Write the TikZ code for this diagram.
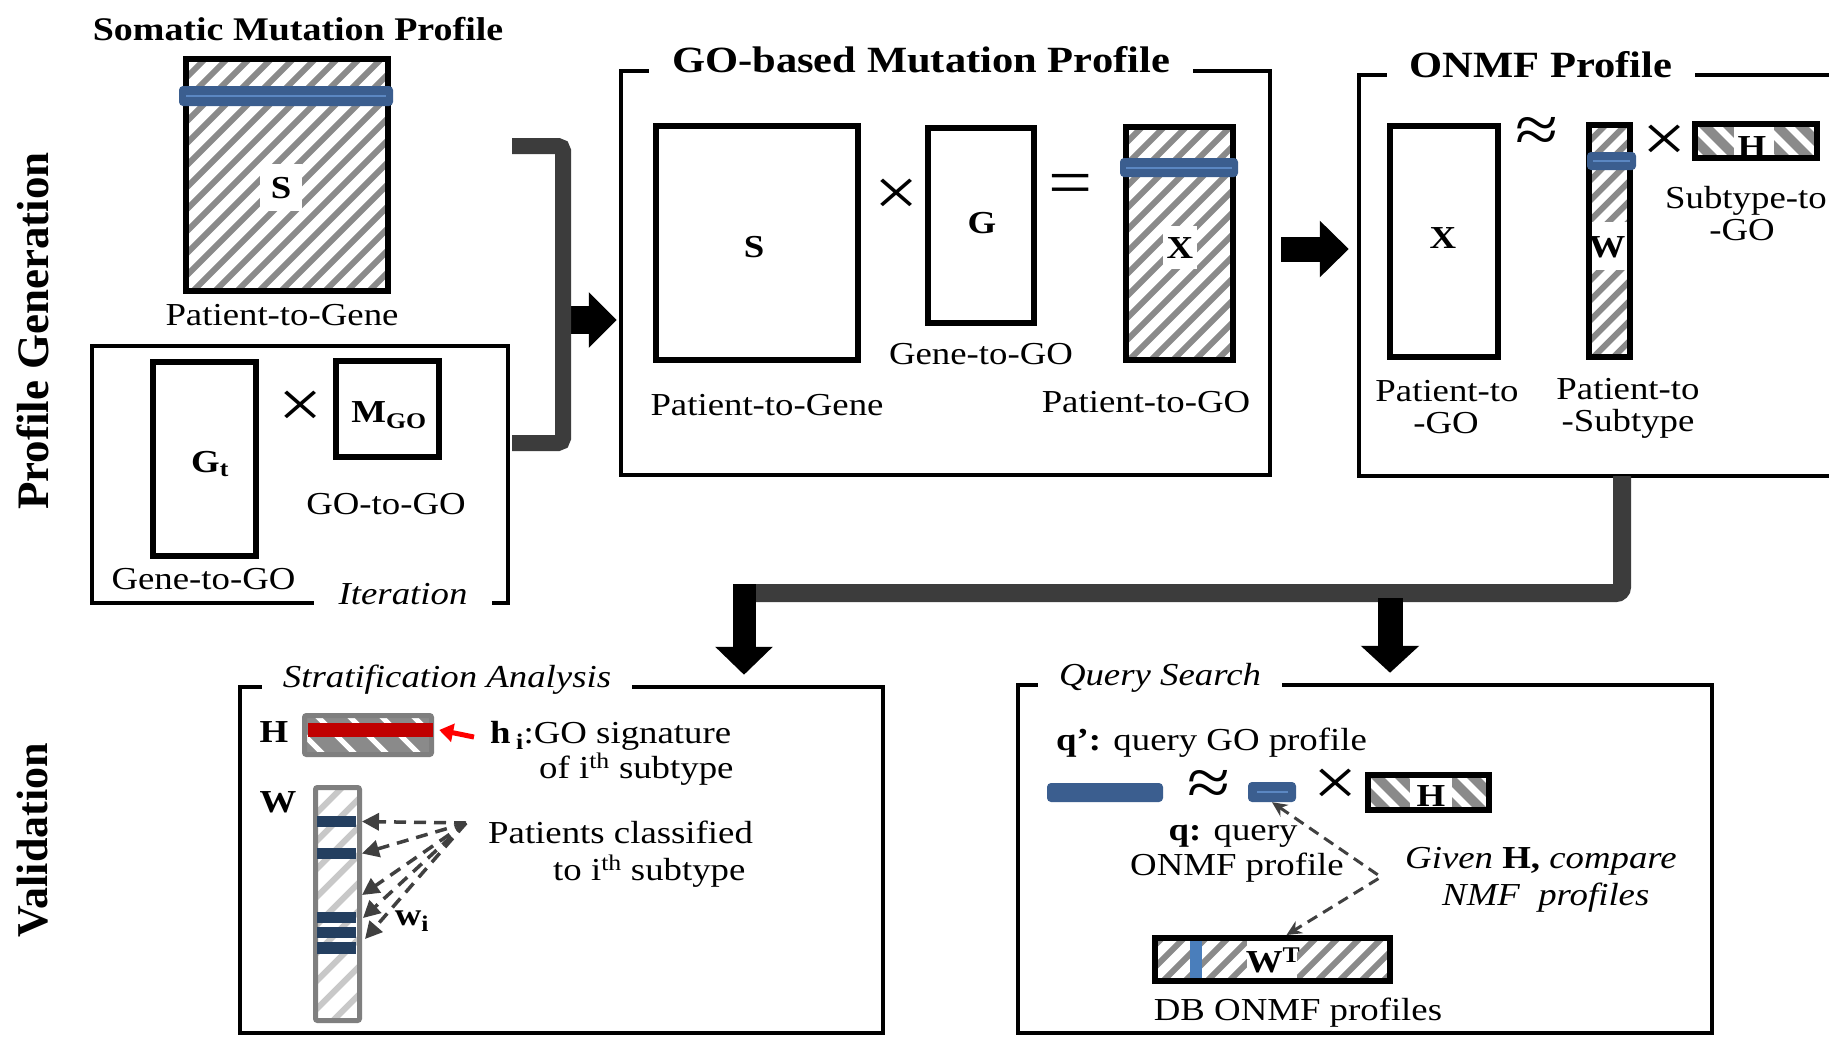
\documentclass[tikz,border=0pt]{standalone}
\usepackage{fontspec}
\setmainfont{Liberation Serif}[FakeStretch=1.15]
\newfontfamily\sidefont{Liberation Serif}
\usetikzlibrary{arrows.meta}

\definecolor{hatchgray}{HTML}{8A8A8A}
\definecolor{barblue}{HTML}{3B5E8F}
\definecolor{barhi}{HTML}{5B87C2}
\definecolor{navy}{HTML}{243F60}
\definecolor{flowgray}{HTML}{3C3C3C}
\definecolor{softgray}{HTML}{7F7F7F}
\definecolor{lightstripe}{HTML}{C8C8C8}
\definecolor{darkred}{HTML}{C00000}
\definecolor{wtblue}{HTML}{4A7EBB}
\definecolor{dashgray}{HTML}{404040}

% diagonal stripes inside a node (used from path picture)
\newcommand\fwdstripes[3]{%
  \foreach \k in {-22,...,22}{%
    \draw[#1,line width=#2] ([xshift=\k*#3]path picture bounding box.center)
      ++(-220pt,-220pt) -- ++(440pt,440pt);}}
\newcommand\bckstripes[3]{%
  \foreach \k in {-22,...,22}{%
    \draw[#1,line width=#2] ([xshift=\k*#3]path picture bounding box.center)
      ++(-220pt,220pt) -- ++(440pt,-440pt);}}
\newcommand\lblfont{\fontsize{32}{28}\selectfont}

\begin{document}
\begin{tikzpicture}[x=1pt,y=-1pt,
  lbl/.style={inner sep=0pt, font=\lblfont, anchor=base},
  blbl/.style={inner sep=0pt, font=\lblfont\bfseries, anchor=base},
  ptitle/.style={fill=white, inner xsep=23pt, inner ysep=4pt, anchor=base,
    font=\fontsize{37}{37}\selectfont\bfseries},
  ititle/.style={fill=white, inner xsep=21pt, inner ysep=4pt, anchor=base,
    font=\fontsize{32}{32}\selectfont\itshape},
  op/.style={inner sep=0pt, font=\fontsize{68}{68}\selectfont},
  panel/.style={draw, line width=4.5pt, inner sep=0pt},
  mat/.style={draw, line width=6pt, fill=white, inner sep=0pt},
  soft/.style={draw=softgray, line width=5pt, inner sep=0pt, rounded corners=2pt},
  bar/.style={fill=barblue, rounded corners=4pt, inner sep=0pt},
  hiline/.style={draw=barhi, line width=2pt},
  navybar/.style={fill=navy, inner sep=0pt, minimum width=39pt, minimum height=11pt},
  flow/.style={draw=flowgray, line width=18pt},
  bigarrow/.style n args={3}{draw=black, line width=#1, -{Triangle[length=#2,width=#3]}},
  fan/.style={draw=dashgray, line width=3.5pt, dash pattern=on 12pt off 8pt,
    -{Triangle[length=17pt,width=17pt]}},
  qdash/.style={draw=dashgray, line width=3pt, dash pattern=on 11pt off 7pt,
    {Stealth[length=15pt,width=14pt]}-{Stealth[length=15pt,width=14pt]}},
]
\useasboundingbox (0,0) rectangle (1829,1037);
\clip (0,0) rectangle (1829,1037);
\fill[white] (0,0) rectangle (1829,1037);

% ---------- side labels ----------
\node[rotate=90, inner sep=0pt, font=\sidefont\fontsize{45}{45}\selectfont\bfseries] (sideGen) at (33,331) {Profile Generation};
\node[rotate=90, inner sep=0pt, font=\sidefont\fontsize{44}{44}\selectfont\bfseries] (sideVal) at (33,840) {Validation};

% ---------- somatic mutation profile ----------
\node[inner sep=0pt, anchor=base, font=\fontsize{33}{33}\selectfont\bfseries] (somTitle) at (298,40) {Somatic Mutation Profile};
\node[mat, minimum width=202pt, minimum height=232pt,
  path picture={\fwdstripes{hatchgray}{6pt}{22pt}}] (sTop) at (287,175) {};
\node[bar, minimum width=214pt, minimum height=20pt] (sTopBar) at (286,96) {};
\draw[hiline] ([xshift=7pt]sTopBar.center -| sTopBar.west) -- ([xshift=-7pt]sTopBar.center -| sTopBar.east);
\node[blbl, fill=white, inner xsep=11pt, inner ysep=13pt] (sTopL) at (281,198) {S};
\node[lbl] (sTopCap) at (282,325) {Patient-to-Gene};

% iteration box
\node[panel, minimum width=416pt, minimum height=257pt] (iterBox) at (300,474.5) {};
\node[ititle, inner xsep=25pt] (iterL) at (403,604) {Iteration};
\node[mat, minimum width=103pt, minimum height=194pt] (gt) at (204.5,459) {};
\node[blbl] (gtL) at (210,472) {G\textsubscript{t}};
\node[op] (timesA) at (301,409) {×};
\node[mat, minimum width=103pt, minimum height=96pt] (mgo) at (387.5,409) {};
\node[blbl] (mgoL) at (389,422) {M\textsubscript{GO}};
\node[lbl] (mgoCap) at (386,514) {GO-to-GO};
\node[lbl] (gtCap) at (203.5,589) {Gene-to-GO};

% ---------- GO-based mutation profile ----------
\node[panel, minimum width=649pt, minimum height=404pt] (goBox) at (945.5,273) {};
\node[ptitle] (goTitle) at (921,72) {GO-based Mutation Profile};
\node[mat, minimum width=202pt, minimum height=234pt] (sGo) at (757,243) {};
\node[blbl] (sGoL) at (754,257) {S};
\node[op] (timesB) at (897,197) {×};
\node[mat, minimum width=106pt, minimum height=195pt] (gGo) at (981,225.5) {};
\node[blbl] (gGoL) at (982,233) {G};
\node[op] (eqB) at (1071,190) {=};
\node[mat, minimum width=107pt, minimum height=233pt,
  path picture={\fwdstripes{hatchgray}{6pt}{22pt}}] (xGo) at (1179.5,243.5) {};
\node[bar, minimum width=118pt, minimum height=19pt] (xGoBar) at (1179,167.5) {};
\draw[hiline] ([xshift=6pt]xGoBar.center -| xGoBar.west) -- ([xshift=-6pt]xGoBar.center -| xGoBar.east);
\node[blbl, fill=white, inner xsep=4pt, inner ysep=11pt] (xGoL) at (1180,258) {X};
\node[lbl] (gGoCap) at (981,364) {Gene-to-GO};
\node[lbl] (sGoCap) at (767,415) {Patient-to-Gene};
\node[lbl] (xGoCap) at (1146,412) {Patient-to-GO};

% ---------- ONMF profile ----------
\node[panel, minimum width=541pt, minimum height=401pt] (onBox) at (1629.5,275.5) {};
\node[ptitle] (onTitle) at (1541,77) {ONMF Profile};
\node[mat, minimum width=108pt, minimum height=231pt] (xOn) at (1444,241.5) {};
\node[blbl] (xOnL) at (1443,248) {X};
\node[op] (approxA) at (1537,135) {≈};
\node[mat, minimum width=41pt, minimum height=232pt,
  path picture={\fwdstripes{hatchgray}{6pt}{20pt}
    \fill[white] ([yshift=19pt]path picture bounding box.west) rectangle ([yshift=-29pt]path picture bounding box.east);}] (wOn) at (1609.5,241) {};
\node[bar, minimum width=49pt, minimum height=18pt] (wOnBar) at (1611.5,161) {};
\draw[hiline] ([xshift=6pt]wOnBar.center -| wOnBar.west) -- ([xshift=-6pt]wOnBar.center -| wOnBar.east);
\node[blbl] (wOnL) at (1607,257) {W};
\node[op] (timesC) at (1665,143) {×};
\node[mat, fill=hatchgray, minimum width=122pt, minimum height=34pt,
  path picture={\bckstripes{white}{7pt}{24pt}
    \fill[white] ([xshift=-22pt]path picture bounding box.north) rectangle ([xshift=18pt]path picture bounding box.south);}] (hOn) at (1756,141) {};
\node[blbl] (hOnL) at (1752,157) {H};
\node[lbl, anchor=base west] (hOnCap1) at (1665,208) {Subtype-to};
\node[lbl] (hOnCap2) at (1742,240) {-GO};
\node[lbl] (xOnCap1) at (1447,401) {Patient-to};
\node[lbl] (xOnCap2) at (1446,433) {-GO};
\node[lbl] (wOnCap1) at (1628,399) {Patient-to};
\node[lbl] (wOnCap2) at (1628,431) {-Subtype};

% ---------- validation panels ----------
\node[panel, minimum width=643pt, minimum height=346pt] (stBox) at (561.5,860) {};
\node[ititle] (stTitle) at (447,687) {Stratification Analysis};
\node[panel, minimum width=694pt, minimum height=348pt] (qBox) at (1365,859) {};
\node[ititle] (qTitle) at (1160,685) {Query Search};

% stratification analysis
\node[blbl] (hStL) at (274,742) {H};
\node[soft, fill=hatchgray, minimum width=127pt, minimum height=39pt,
  path picture={\bckstripes{white}{5pt}{32pt}}] (hSt) at (368,735) {};
\node[fill=darkred, inner sep=0pt, minimum width=125pt, minimum height=14pt] (hRow) at (370.5,730) {};
\node[lbl, anchor=base west] (hRowL) at (490,743) {\textbf{h\,\textsubscript{i}}:GO signature};
\node[lbl, anchor=base west] (hRowL2) at (539,778) {of i\textsuperscript{th} subtype};
\coordinate (redStart) at (474,737);
\draw[draw=red, line width=5pt, -{Triangle[length=14pt,width=18pt]}] (redStart) -- ([xshift=6pt]hRow.east);

\node[blbl] (wStL) at (278,812) {W};
\node[soft, fill=white, minimum width=44pt, minimum height=233pt,
  path picture={\fwdstripes{lightstripe}{6pt}{28pt}}] (wSt) at (337.5,904) {};
\node[navybar] (b1) at (336.5,821.5) {};
\node[navybar] (b2) at (336.5,853.5) {};
\node[navybar] (b3) at (336.5,917) {};
\node[navybar] (b4) at (336.5,932.5) {};
\node[navybar, minimum height=12pt] (b5) at (336.5,948) {};
\coordinate (fanO) at (466,823);
\coordinate (fanT3) at (362,895);
\coordinate (fanT4) at (363,918);
\coordinate (fanT5) at (365,939);
\draw[fan] (fanO) -- (wSt.east |- b1);
\draw[fan] (fanO) -- (wSt.east |- b2);
\draw[fan] (fanO) -- (fanT3);
\draw[fan] (fanO) -- (fanT4);
\draw[fan] (fanO) -- (fanT5);
\node[blbl] (wiL) at (412,925) {w\textsubscript{i}};
\node[lbl, anchor=base west] (patL1) at (488,843) {Patients classified};
\node[lbl, anchor=base west] (patL2) at (553,880) {to i\textsuperscript{th} subtype};

% query search
\node[lbl, anchor=base west] (qpL) at (1056,750) {\textbf{q’:} query GO profile};
\node[bar, minimum width=116pt, minimum height=19pt] (qLong) at (1105,792.5) {};
\node[op] (approxB) at (1209,788) {≈};
\node[bar, minimum width=48pt, minimum height=20pt] (qSmall) at (1272,792) {};
\draw[hiline] ([xshift=-15pt]qSmall.center) -- ([xshift=16pt]qSmall.center);
\node[op] (timesD) at (1336,787) {×};
\node[mat, fill=hatchgray, minimum width=121pt, minimum height=35pt,
  path picture={\bckstripes{white}{7pt}{24pt}
    \fill[white] ([xshift=-19pt]path picture bounding box.north) rectangle ([xshift=23pt]path picture bounding box.south);}] (hQ) at (1428.5,792.5) {};
\node[blbl] (hQL) at (1431,806) {H};
\node[lbl] (qL1) at (1233,840) {\textbf{q:} query};
\node[lbl] (qL2) at (1237,875) {ONMF profile};
\node[lbl, anchor=base west] (givenL1) at (1405,868) {\itshape Given \upshape\bfseries H, \mdseries\itshape compare};
\node[lbl, anchor=base west] (givenL2) at (1442,905) {\itshape NMF\ \ profiles};
\node[mat, minimum width=235pt, minimum height=43pt,
  path picture={\fwdstripes{hatchgray}{6pt}{22pt}
    \fill[white] ([xshift=-25.5pt]path picture bounding box.north) rectangle ([xshift=24.5pt]path picture bounding box.south);
    \fill[wtblue] ([xshift=-82.5pt]path picture bounding box.north) rectangle ([xshift=-70.5pt]path picture bounding box.south);}] (wT) at (1272.5,959.5) {};
\node[blbl] (wTL) at (1273,972) {W\textsuperscript{T}};
\node[lbl] (wTCap) at (1298,1020) {DB ONMF profiles};
\coordinate (qTurn) at (1381,877);
\draw[qdash] (qSmall.south) -- (qTurn) -- ([xshift=14pt]wT.north);

% ---------- flow connectors ----------
\coordinate (brTop) at (512,146);
\coordinate (brBot) at (512,443);
\coordinate (brMid) at (563,320);
\draw[bigarrow={28pt}{28pt}{54pt}] (brMid) -- ([xshift=-2pt]goBox.west |- brMid);
\draw[flow, line width=16pt, rounded corners=5pt] (brTop) -- (brTop -| brMid) -- (brBot -| brMid) -- (brBot);

\coordinate (goOut) at (1281,249);
\draw[bigarrow={25pt}{29pt}{55pt}] (goOut) -- ([xshift=-8pt]onBox.west |- goOut);

\coordinate (onOut) at (1622,476);
\coordinate (splitL) at (744,593);
\coordinate (splitR) at (1390,593);
\draw[flow, rounded corners=6pt] (onOut) -- (onOut |- splitL) -- ([xshift=-10pt]splitL);
\draw[bigarrow={23pt}{28pt}{56pt}] ([yshift=9pt]splitL) -- ([yshift=10pt]stBox.north -| splitL);
\draw[bigarrow={25pt}{27pt}{57pt}] ([yshift=-5pt]splitR) -- ([yshift=10pt]qBox.north -| splitR);
\end{tikzpicture}
\end{document}
